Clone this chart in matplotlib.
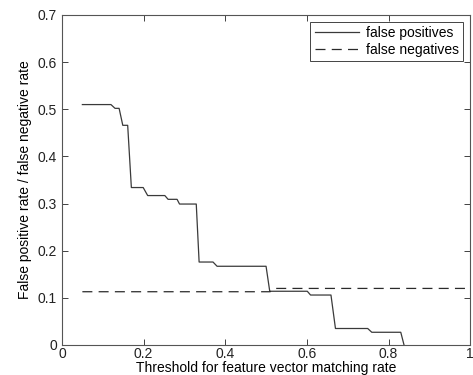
import numpy as np
import matplotlib
matplotlib.use("Agg")
import matplotlib.pyplot as plt

plt.rcParams['font.family'] = ['Liberation Sans', 'DejaVu Sans']

# false positives curve (threshold, rate)
fp_x = [0.05, 0.12, 0.13, 0.14, 0.149, 0.161, 0.170, 0.199, 0.21, 0.252, 0.26,
        0.282, 0.288, 0.329, 0.336, 0.37, 0.38, 0.50, 0.509, 0.601, 0.609,
        0.659, 0.670, 0.749, 0.759, 0.830, 0.838]
fp_y = [0.51, 0.51, 0.502, 0.502, 0.466, 0.466, 0.334, 0.334, 0.317, 0.317, 0.309,
        0.309, 0.299, 0.299, 0.176, 0.176, 0.167, 0.167, 0.114, 0.114, 0.106,
        0.106, 0.035, 0.035, 0.027, 0.027, 0.0]

# false negatives curve
fn_x = [0.05, 0.51, 0.52, 1.0]
fn_y = [0.113, 0.113, 0.12, 0.12]

xticks = [0, 0.2, 0.4, 0.6, 0.8, 1]
xtick_labels = ['0', '0.2', '0.4', '0.6', '0.8', '1']
yticks = [0, 0.1, 0.2, 0.3, 0.4, 0.5, 0.6, 0.7]
ytick_labels = ['0', '0.1', '0.2', '0.3', '0.4', '0.5', '0.6', '0.7']

fig = plt.figure(figsize=(4.73, 3.75), dpi=100)
ax = fig.add_axes([0.131, 0.08, 0.863, 0.88])

ax.plot(fp_x, fp_y, color='#3a3a3a', lw=0.9, label='false positives')
ax.plot(fn_x, fn_y, color='#2a2a2a', lw=0.9, dashes=(8, 5), label='false negatives')

ax.set_xlim(0, 1)
ax.set_ylim(0, 0.7)
ax.set_xticks(xticks)
ax.set_xticklabels(xtick_labels)
ax.set_yticks(yticks)
ax.set_yticklabels(ytick_labels)
ax.tick_params(direction='in', top=True, right=True, length=4, width=0.6,
               labelsize=10, colors='#222222')
ax.tick_params(axis='x', pad=1.5)
for sp in ax.spines.values():
    sp.set_color('#555555')
    sp.set_linewidth(0.8)

ax.set_xlabel('Threshold for feature vector matching rate', fontsize=10, labelpad=0)
ax.set_ylabel('False positive rate / false negative rate', fontsize=10, labelpad=4)

leg = ax.legend(loc='upper right', fontsize=10, fancybox=False, framealpha=1,
                edgecolor='#444444', handlelength=3.2, borderaxespad=0.5,
                borderpad=0.3, labelspacing=0.2, handletextpad=0.5)
leg.get_frame().set_linewidth(0.7)

fig.savefig('out.png', dpi=100)
